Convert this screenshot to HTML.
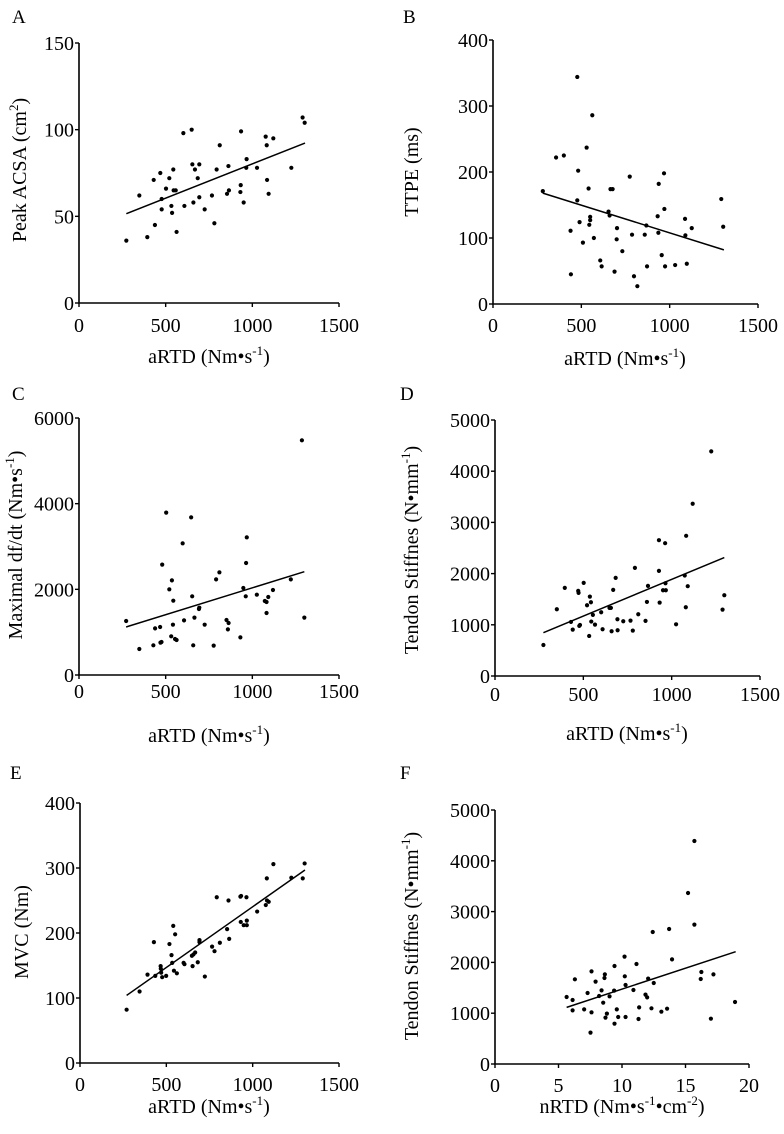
<!DOCTYPE html>
<html><head><meta charset="utf-8"><style>
html,body{margin:0;padding:0;background:#fff;width:784px;height:1134px;overflow:hidden}
svg text{font-family:"Liberation Serif",serif;fill:#000}
</style></head><body>
<svg id="chart" width="784" height="1134" viewBox="0 0 784 1134" xmlns="http://www.w3.org/2000/svg"></svg>
<script>
const aX=[273,348,394,431,438,469,477,477,502,521,533,537,544,546,558,563,602,608,650,654,660,669,685,694,694,725,767,781,794,812,854,862,865,931,933,935,950,965,967,1027,1077,1083,1085,1094,1121,1225,1290,1302];
const aY=[36,62,38,71,45,75,60,54,66,72,56,52,77,65,65,41,98,56,100,80,58,77,72,80,61,54,62,46,77,91,63,79,65,64,68,99,58,78,83,78,96,91,71,63,95,78,107,104];
const aFit=[[273,51.5],[1304,92.3]];
const bX=[282,357,401,441,439,477,477,482,490,509,530,541,545,550,550,562,571,607,615,654,660,665,677,688,700,702,732,774,787,798,817,859,868,872,932,938,936,955,970,968,974,1031,1087,1089,1097,1125,1292,1303];
const bY=[171,222,225,45,111,344,157,202,124,93,237,175,120,132,127,286,100,66,57,140,134,174,174,49,98,115,80,193,105,42,27,105,119,57,133,182,108,74,144,198,57,59,129,104,61,115,159,117];
const bFit=[[282,168],[1307,82]];
const cX=[272,348,429,439,468,470,476,480,503,521,532,536,544,542,554,563,598,606,647,653,659,666,692,694,725,777,791,810,851,859,863,931,948,962,964,968,1026,1072,1082,1082,1092,1119,1222,1286,1300];
const cY=[1261,607,693,1089,1121,755,770,2576,3790,2000,903,2210,1735,1175,840,817,3074,1276,3681,1837,693,1339,1541,1572,1175,685,2233,2397,1284,1066,1214,879,2031,1837,2615,3214,1875,1728,1704,1447,1821,1984,2233,5479,1339];
const cFit=[[272,1121],[1300,2412]];
const dX=[274,350,395,430,440,471,473,477,481,502,521,537,543,545,533,554,566,601,609,648,656,660,669,683,693,694,726,767,780,792,811,852,860,866,928,928,932,951,963,965,967,1025,1074,1080,1082,1091,1119,1224,1288,1298];
const dY=[606,1304,1721,1056,906,1662,1623,978,997,1819,1382,1551,1441,1063,782,1193,1004,1245,913,1330,1330,874,1682,1917,1108,893,1069,1082,887,2112,1206,1076,1447,1760,2653,2053,1434,1675,2594,1812,1675,1010,1962,1343,2738,1754,3364,4387,1297,1578];
const dFit=[[274,847],[1298,2314]];
const eX=[270,345,391,428,436,467,468,470,476,499,518,530,534,540,544,551,561,600,605,648,652,657,667,682,692,692,723,765,779,792,810,852,860,864,929,931,933,948,964,966,966,1026,1076,1082,1083,1093,1120,1224,1290,1301];
const eY=[82,110,136,186,134,149,145,139,132,134,183,166,154,211,142,198,138,154,152,165,149,167,170,155,186,189,133,179,172,255,185,206,250,191,256,217,257,212,255,212,219,233,243,284,250,248,306,285,284,307];
const eFit=[[270,104],[1303,297]];
const fX=[5.64,6.11,6.11,6.29,7.02,7.29,7.52,7.6,7.6,7.92,8.2,8.39,8.52,8.62,8.65,8.7,8.81,9.02,9.38,9.41,9.41,9.59,9.7,10.2,10.22,10.28,10.28,10.9,11.14,11.3,11.35,11.85,11.98,12.06,12.32,12.42,12.5,13.1,13.55,13.71,13.94,15.2,15.7,15.7,16.2,16.25,17.0,17.2,18.9];
const fY=[1319,1260,1056,1667,1076,1398,617,1824,1017,1621,1339,1450,1207,1693,1765,912,991,1332,1444,1929,794,1076,925,2113,1726,1555,925,1457,1969,886,1115,1365,1312,1680,1096,2598,1594,1030,1089,2657,2060,3366,4390,2743,1673,1811,892,1765,1220];
const fFit=[[5.64,1115],[18.95,2211]];
const xTicksA=[0,500,1000,1500];
const xTicksF=[0,5,10,15,20];
const yTicksA=[0,50,100,150];
const yTicksB=[0,100,200,300,400];
const yTicksC=[0,2000,4000,6000];
const yTicksD=[0,1000,2000,3000,4000,5000];
const yTicksE=[0,100,200,300,400];

const NS='http://www.w3.org/2000/svg';
const svg=document.getElementById('chart');
function mk(tag,attrs,parent){const e=document.createElementNS(NS,tag);for(const k in attrs)e.setAttribute(k,attrs[k]);(parent||svg).appendChild(e);return e;}

const panels=[
 {id:'a',L:'A',lx:12,ly:23,x0:79,x1:339,y0:303,y1:43,xmax:1500,ymax:150,xt:xTicksA,yt:yTicksA,xs:aX,ys:aY,fit:aFit,tickY:332,titleY:363,titleX:209,ytx:26,yty:170,
  yt_html:['Peak  ACSA (cm','2',')'],xt_html:['aRTD (Nm•s','-1',')']},
 {id:'b',L:'B',lx:403,ly:23,x0:493,x1:758,y0:304,y1:40,xmax:1500,ymax:400,xt:xTicksA,yt:yTicksB,xs:bX,ys:bY,fit:bFit,tickY:332,titleY:365,titleX:625,ytx:418,yty:172,
  yt_html:['TTPE (ms)'],xt_html:['aRTD (Nm•s','-1',')']},
 {id:'c',L:'C',lx:12,ly:400,x0:79,x1:339,y0:675,y1:418,xmax:1500,ymax:6000,xt:xTicksA,yt:yTicksC,xs:cX,ys:cY,fit:cFit,tickY:698,titleY:742,titleX:209,ytx:22,yty:545,
  yt_html:['Maximal df/dt (Nm•s','-1',')']},
 {id:'d',L:'D',lx:400,ly:400,x0:495,x1:760,y0:676,y1:420,xmax:1500,ymax:5000,xt:xTicksA,yt:yTicksD,xs:dX,ys:dY,fit:dFit,tickY:701,titleY:740,titleX:627,ytx:418,yty:550,
  yt_html:['Tendon Stiffnes (N•mm','-1',')']},
 {id:'e',L:'E',lx:10,ly:779,x0:80,x1:339,y0:1063,y1:803,xmax:1500,ymax:400,xt:xTicksA,yt:yTicksE,xs:eX,ys:eY,fit:eFit,tickY:1091,titleY:1113,titleX:209,ytx:28,yty:932,
  yt_html:['MVC (Nm)']},
 {id:'f',L:'F',lx:400,ly:779,x0:495,x1:749,y0:1064,y1:810,xmax:20,ymax:5000,xt:xTicksF,yt:yTicksD,xs:fX,ys:fY,fit:fFit,tickY:1092,titleY:1113,titleX:622,ytx:418,yty:936,
  yt_html:['Tendon Stiffnes (N•mm','-1',')'],xt_html:['nRTD (Nm•s','-1','•cm','-2',')']}
];

function richText(g,parts,attrs){
  const t=mk('text',attrs,g);
  parts.forEach((p,i)=>{
    const sup=i%2===1;
    const s=mk('tspan',sup?{'font-size':'13','dy':'-8'}:(i>0?{'dy':'8'}:{}),t);
    s.textContent=p;
  });
  return t;
}

panels.forEach(p=>{
  const g=mk('g',{});
  
  
  const sx=v=>p.x0+(p.x1-p.x0)*v/p.xmax;
  const sy=v=>p.y0-(p.y0-p.y1)*v/p.ymax;
  const lab=mk('text',{x:p.lx,y:p.ly,'font-size':'19'},g);
  lab.textContent=p.L;
  
  
  const ax=mk('path',{d:`M${p.x0},${p.y1} L${p.x0},${p.y0} L${p.x1},${p.y0}`,fill:'none',stroke:'#000','stroke-width':'1.6'},g);
  
  
  p.yt.forEach(v=>{
    const y=sy(v);
    mk('line',{x1:p.x0-4,x2:p.x0,y1:y,y2:y,stroke:'#000','stroke-width':'1.4'},g);
    const t=mk('text',{x:p.x0-5,y:y+7,'font-size':'20','text-anchor':'end'},g);
    t.textContent=v;
    
    
  });
  p.xt.forEach(v=>{
    const x=sx(v);
    mk('line',{x1:x,x2:x,y1:p.y0,y2:p.y0+4,stroke:'#000','stroke-width':'1.4'},g);
    const t=mk('text',{x:x,y:p.tickY,'font-size':'20','text-anchor':'middle'},g);
    t.textContent=v;
    
    
  });
  const xt=richText(g,p.xt_html||['aRTD (Nm•s','-1',')'],{x:p.titleX,y:p.titleY,'font-size':'20','text-anchor':'middle'});
  
  
  const yt=richText(g,p.yt_html,{x:0,y:0,'font-size':'20','text-anchor':'middle',transform:`translate(${p.ytx},${p.yty}) rotate(-90)`});
  
  
  p.xs.forEach((xv,i)=>{
    const c=mk('circle',{cx:sx(xv),cy:sy(p.ys[i]),r:'2.1',fill:'#000'},g);
    
    
  });
  const ln=mk('line',{x1:sx(p.fit[0][0]),y1:sy(p.fit[0][1]),x2:sx(p.fit[1][0]),y2:sy(p.fit[1][1]),stroke:'#000','stroke-width':'1.5'},g);
  
  
});
</script>
</body></html>
